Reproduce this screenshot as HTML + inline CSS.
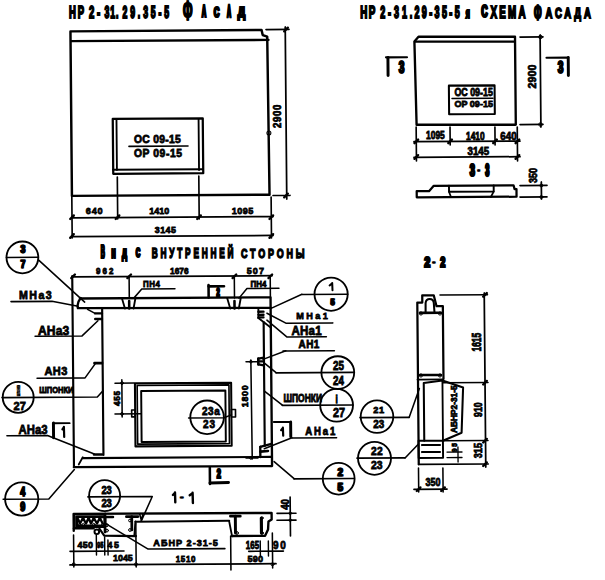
<!DOCTYPE html>
<html><head><meta charset="utf-8"><style>
html,body{margin:0;padding:0;background:#fff;}
svg{display:block;}
text{font-family:"Liberation Sans",sans-serif;fill:#000;stroke:#000;}
path,rect,circle{fill:none;stroke:#000;stroke-linecap:round;stroke-linejoin:round;}
</style></head><body>
<svg width="605" height="580" viewBox="0 0 605 580">
<text transform="translate(69.10,17.9) scale(0.600,1)" font-size="15.78" font-weight="700" stroke-width="1.88" letter-spacing="2.90">НР</text>
<text transform="translate(89.10,17.9) scale(0.600,1)" font-size="15.78" font-weight="700" stroke-width="1.88" letter-spacing="4.45">2-</text>
<text transform="translate(104.60,17.9) scale(0.550,1)" font-size="15.78" font-weight="700" stroke-width="1.94" letter-spacing="1.67">31.</text>
<text transform="translate(122.50,17.9) scale(0.550,1)" font-size="15.78" font-weight="700" stroke-width="1.94" letter-spacing="5.20">29.35-5</text>
<text transform="translate(182.63,20.10) scale(0.1111,0.2682)" font-size="100" font-weight="700" stroke-width="5.80">Ф</text>
<text transform="translate(183.13,20.10) scale(0.1111,0.2682)" font-size="100" font-weight="700" stroke-width="5.80">Ф</text>
<text transform="translate(201.45,17.15) scale(0.0583,0.1667)" font-size="100" font-weight="700" stroke-width="13.33">А</text>
<text transform="translate(202.25,17.15) scale(0.0583,0.1667)" font-size="100" font-weight="700" stroke-width="13.33">А</text>
<text transform="translate(213.55,17.00) scale(0.0764,0.1521)" font-size="100" font-weight="700" stroke-width="13.13">С</text>
<text transform="translate(214.35,17.00) scale(0.0764,0.1521)" font-size="100" font-weight="700" stroke-width="13.13">С</text>
<text transform="translate(226.65,17.15) scale(0.0528,0.1696)" font-size="100" font-weight="700" stroke-width="13.49">А</text>
<text transform="translate(227.45,17.15) scale(0.0528,0.1696)" font-size="100" font-weight="700" stroke-width="13.49">А</text>
<text transform="translate(237.55,17.15) scale(0.1014,0.1508)" font-size="100" font-weight="700" stroke-width="11.89">Д</text>
<text transform="translate(238.35,17.15) scale(0.1014,0.1508)" font-size="100" font-weight="700" stroke-width="11.89">Д</text>
<path d="M71.94,195.89 L70.46,31.39 L261.56,29.95 L262.70,35.04 L267.22,36.71 L269.54,194.71 L71.94,195.89" stroke-width="2.45"/>
<path d="M71.20,41.09 L268.50,39.91" stroke-width="2.35"/>
<path d="M112.75,118.87 L202.75,118.33 L203.25,173.23 L113.25,173.77Z" stroke-width="2.25"/>
<path d="M116.47,119.00 L116.93,170.00" stroke-width="1.85"/>
<path d="M113.00,169.77 L203.00,169.23" stroke-width="1.85"/>
<path d="M198.57,119.00 L199.03,170.00" stroke-width="1.85"/>
<text transform="translate(134.00,142.8) scale(0.950,1)" font-size="10.89" font-weight="700" stroke-width="0.77" letter-spacing="0.31">OC 09-15</text>
<path d="M129.00,146.38 L188.00,146.02" stroke-width="1.65"/>
<text transform="translate(134.00,156.6) scale(0.950,1)" font-size="10.89" font-weight="700" stroke-width="0.77" letter-spacing="0.59">OP 09-15</text>
<circle cx="268.9" cy="133" r="2.0" stroke-width="1.05"/>
<path d="M117.31,177.00 L117.69,219.00" stroke-width="1.65"/>
<path d="M198.81,176.00 L199.19,219.00" stroke-width="1.65"/>
<path d="M71.82,197.00 L72.18,238.00" stroke-width="1.65"/>
<path d="M271.12,197.00 L271.48,238.00" stroke-width="1.65"/>
<path d="M72.00,217.80 L273.00,216.60" stroke-width="1.75"/>
<path d="M72.00,236.60 L273.00,235.40" stroke-width="1.75"/>
<path d="M70.2,219.0 L73.8,215.39999999999998" stroke-width="2.4"/>
<path d="M115.7,219.0 L119.3,215.39999999999998" stroke-width="2.4"/>
<path d="M197.2,219.0 L200.8,215.39999999999998" stroke-width="2.4"/>
<path d="M269.5,219.0 L273.1,215.39999999999998" stroke-width="2.4"/>
<path d="M70.2,237.8 L73.8,234.2" stroke-width="2.4"/>
<path d="M269.5,237.8 L273.1,234.2" stroke-width="2.4"/>
<text transform="translate(85.80,214.3) scale(0.950,1)" font-size="9.64" font-weight="700" stroke-width="0.77" letter-spacing="0.85">640</text>
<text transform="translate(149.30,214.3) scale(0.930,1)" font-size="9.64" font-weight="700" stroke-width="0.78" letter-spacing="0.00">1410</text>
<text transform="translate(231.70,214.3) scale(0.950,1)" font-size="9.64" font-weight="700" stroke-width="0.77" letter-spacing="0.41">1095</text>
<text transform="translate(154.80,232.7) scale(0.950,1)" font-size="9.36" font-weight="700" stroke-width="0.77" letter-spacing="0.48">3145</text>
<path d="M266.00,29.57 L289.00,29.43" stroke-width="1.65"/>
<path d="M273.00,195.55 L290.00,195.45" stroke-width="1.65"/>
<path d="M285.23,27.00 L286.77,199.00" stroke-width="1.75"/>
<path d="M284.2,31.3 L287.8,27.7" stroke-width="2.4"/>
<path d="M284.2,197.3 L287.8,193.7" stroke-width="2.4"/>
<text transform="translate(280.5,128.00) rotate(-90) scale(0.950,1)" font-size="10.20" font-weight="700" stroke-width="0.77" letter-spacing="0.63">2900</text>
<text transform="translate(360.20,17.9) scale(0.600,1)" font-size="16.34" font-weight="700" stroke-width="1.88" letter-spacing="2.45">НР</text>
<text transform="translate(380.20,17.9) scale(0.550,1)" font-size="16.34" font-weight="700" stroke-width="1.94" letter-spacing="5.32">2-31.</text>
<text transform="translate(414.50,17.9) scale(0.550,1)" font-size="16.34" font-weight="700" stroke-width="1.94" letter-spacing="4.30">29-35-5</text>
<text transform="translate(465.46,17.51) scale(0.0698,0.1532)" font-size="100" font-weight="700" stroke-width="11.66">я</text>
<text transform="translate(465.96,17.51) scale(0.0698,0.1532)" font-size="100" font-weight="700" stroke-width="11.66">я</text>
<text transform="translate(480.95,17.28) scale(0.0861,0.1662)" font-size="100" font-weight="700" stroke-width="11.89">С</text>
<text transform="translate(481.75,17.28) scale(0.0861,0.1662)" font-size="100" font-weight="700" stroke-width="11.89">С</text>
<text transform="translate(490.50,17.9) scale(0.620,1)" font-size="15.78" font-weight="700" stroke-width="1.85" letter-spacing="3.67">ХЕМА</text>
<text transform="translate(533.83,19.75) scale(0.0887,0.2203)" font-size="100" font-weight="700" stroke-width="7.12">Ф</text>
<text transform="translate(534.33,19.75) scale(0.0887,0.2203)" font-size="100" font-weight="700" stroke-width="7.12">Ф</text>
<text transform="translate(545.50,17.9) scale(0.620,1)" font-size="15.36" font-weight="700" stroke-width="1.85" letter-spacing="4.48">АСАДА</text>
<path d="M416.60,124.70 L414.40,41.40 L418.50,36.70 L515.00,36.70 L515.80,124.70 L416.60,124.70" stroke-width="2.35"/>
<path d="M415.00,41.60 L514.50,41.60" stroke-width="2.15"/>
<path d="M448.87,85.64 L494.57,85.36 L494.83,114.06 L449.13,114.34Z" stroke-width="2.05"/>
<text transform="translate(454.40,96.4) scale(0.806,1)" font-size="11.03" font-weight="700" stroke-width="0.83" letter-spacing="0.00">OC 09-15</text>
<path d="M452.00,98.52 L493.00,98.28" stroke-width="1.45"/>
<text transform="translate(454.40,107.3) scale(0.940,1)" font-size="9.64" font-weight="700" stroke-width="0.77" letter-spacing="0.00">OP 09-15</text>
<path d="M387.92,57.50 L388.08,75.50" stroke-width="2.95"/>
<path d="M386.00,57.36 L407.00,57.24" stroke-width="2.15"/>
<text transform="translate(398.39,73.45) scale(0.0968,0.1580)" font-size="100" font-weight="700" stroke-width="10.20">3</text>
<text transform="translate(399.19,73.45) scale(0.0968,0.1580)" font-size="100" font-weight="700" stroke-width="10.20">3</text>
<path d="M546.50,57.77 L568.30,57.63" stroke-width="2.15"/>
<path d="M568.22,57.50 L568.38,75.50" stroke-width="2.95"/>
<text transform="translate(557.39,73.45) scale(0.0968,0.1580)" font-size="100" font-weight="700" stroke-width="10.20">3</text>
<text transform="translate(558.19,73.45) scale(0.0968,0.1580)" font-size="100" font-weight="700" stroke-width="10.20">3</text>
<path d="M520.00,37.07 L543.00,36.93" stroke-width="1.65"/>
<path d="M520.00,124.57 L543.00,124.43" stroke-width="1.65"/>
<path d="M540.09,35.00 L540.91,127.00" stroke-width="1.75"/>
<circle cx="540.5" cy="37" r="1.8" fill="#000" stroke="none"/>
<circle cx="540.5" cy="124.5" r="1.8" fill="#000" stroke="none"/>
<text transform="translate(535.6,88.50) rotate(-90) scale(0.950,1)" font-size="11.17" font-weight="700" stroke-width="0.77" letter-spacing="0.12">2900</text>
<path d="M416.15,127.00 L416.45,161.00" stroke-width="1.65"/>
<path d="M450.02,127.00 L450.18,145.00" stroke-width="1.65"/>
<path d="M494.92,127.00 L495.08,145.00" stroke-width="1.65"/>
<path d="M517.25,127.00 L517.55,161.00" stroke-width="1.65"/>
<path d="M414.00,141.72 L520.00,141.08" stroke-width="1.75"/>
<path d="M414.00,157.32 L520.00,156.68" stroke-width="1.75"/>
<path d="M414.5,143.20000000000002 L418.1,139.6" stroke-width="2.4"/>
<path d="M448.3,143.20000000000002 L451.90000000000003,139.6" stroke-width="2.4"/>
<path d="M493.2,143.20000000000002 L496.8,139.6" stroke-width="2.4"/>
<path d="M515.6,143.20000000000002 L519.1999999999999,139.6" stroke-width="2.4"/>
<path d="M414.5,158.8 L418.1,155.2" stroke-width="2.4"/>
<path d="M515.6,158.8 L519.1999999999999,155.2" stroke-width="2.4"/>
<text transform="translate(426.00,139.3) scale(0.798,1)" font-size="10.61" font-weight="700" stroke-width="0.83" letter-spacing="0.00">1095</text>
<text transform="translate(466.00,139.9) scale(0.800,1)" font-size="10.47" font-weight="700" stroke-width="0.83" letter-spacing="0.00">1410</text>
<text transform="translate(500.30,139.9) scale(0.932,1)" font-size="10.47" font-weight="700" stroke-width="0.78" letter-spacing="0.00">640</text>
<text transform="translate(467.50,154.8) scale(0.929,1)" font-size="10.47" font-weight="700" stroke-width="0.78" letter-spacing="0.00">3145</text>
<text transform="translate(469.38,176.26) scale(0.0882,0.1639)" font-size="100" font-weight="700" stroke-width="12.69">3</text>
<text transform="translate(470.18,176.26) scale(0.0882,0.1639)" font-size="100" font-weight="700" stroke-width="12.69">3</text>
<text transform="translate(477.62,172.18) scale(0.0412,0.0550)" font-size="100" font-weight="700" stroke-width="29.10">-</text>
<text transform="translate(478.42,172.18) scale(0.0412,0.0550)" font-size="100" font-weight="700" stroke-width="29.10">-</text>
<text transform="translate(484.98,176.26) scale(0.0686,0.1639)" font-size="100" font-weight="700" stroke-width="13.76">3</text>
<text transform="translate(485.78,176.26) scale(0.0686,0.1639)" font-size="100" font-weight="700" stroke-width="13.76">3</text>
<path d="M416.75,197.30 L416.70,191.20 L429.00,191.13 L433.75,185.80 L513.55,185.32 L514.58,189.11 L516.48,189.10 L516.55,196.70 L416.75,197.30" stroke-width="2.25"/>
<path d="M448.97,185.73 L449.03,191.83 L493.73,191.57 L493.67,185.47" stroke-width="1.95"/>
<path d="M448.98,191.71 L451.02,196.99" stroke-width="1.75"/>
<path d="M493.68,191.69 L490.82,197.01" stroke-width="1.75"/>
<path d="M520.00,185.58 L547.00,185.42" stroke-width="1.65"/>
<path d="M520.00,197.08 L547.00,196.92" stroke-width="1.65"/>
<path d="M541.32,182.00 L541.48,199.00" stroke-width="1.75"/>
<circle cx="541.4" cy="185.5" r="1.5" fill="#000" stroke="none"/>
<circle cx="541.4" cy="197" r="1.5" fill="#000" stroke="none"/>
<text transform="translate(537,183.00) rotate(-90) scale(0.804,1)" font-size="11.17" font-weight="700" stroke-width="0.83" letter-spacing="0.00">350</text>
<text transform="translate(100.42,258.18) scale(0.0536,0.1922)" font-size="100" font-weight="700" stroke-width="11.39">В</text>
<text transform="translate(101.22,258.18) scale(0.0536,0.1922)" font-size="100" font-weight="700" stroke-width="11.39">В</text>
<text transform="translate(111.32,257.78) scale(0.0536,0.1349)" font-size="100" font-weight="700" stroke-width="14.85">И</text>
<text transform="translate(112.12,257.78) scale(0.0536,0.1349)" font-size="100" font-weight="700" stroke-width="14.85">И</text>
<text transform="translate(121.82,257.78) scale(0.0656,0.1349)" font-size="100" font-weight="700" stroke-width="13.96">Д</text>
<text transform="translate(122.62,257.78) scale(0.0656,0.1349)" font-size="100" font-weight="700" stroke-width="13.96">Д</text>
<text transform="translate(135.42,256.95) scale(0.0592,0.1262)" font-size="100" font-weight="700" stroke-width="15.11">С</text>
<text transform="translate(136.22,256.95) scale(0.0592,0.1262)" font-size="100" font-weight="700" stroke-width="15.11">С</text>
<text transform="translate(151.80,258.2) scale(0.600,1)" font-size="13.83" font-weight="700" stroke-width="1.50" letter-spacing="4.64">ВНУТРЕННЕЙ</text>
<text transform="translate(241.00,258) scale(0.660,1)" font-size="13.55" font-weight="700" stroke-width="1.45" letter-spacing="4.32">СТОРОНЫ</text>
<path d="M72.24,276.00 L73.96,466.60" stroke-width="2.15"/>
<path d="M79.94,298.45 L270.54,297.31 L272.06,466.01 L73.86,467.19" stroke-width="2.35"/>
<path d="M80.7,297.9 Q76.5,303 77.9,308.1 L270.8,307.9" stroke-width="2.35"/>
<path d="M102.14,308.50 L103.46,455.00" stroke-width="2.15"/>
<path d="M263.64,322.00 L264.76,446.00" stroke-width="2.15"/>
<path d="M82.80,458.06 L271.00,456.94" stroke-width="2.15"/>
<path d="M78.73,464.51 L82.77,457.29" stroke-width="1.75"/>
<path d="M72.00,276.90 L272.00,275.70" stroke-width="1.75"/>
<path d="M129.10,276.30 L129.30,298.00" stroke-width="1.55"/>
<path d="M234.30,276.30 L234.50,298.00" stroke-width="1.55"/>
<path d="M270.21,276.30 L270.39,297.00" stroke-width="1.55"/>
<path d="M71.3,278.1 L74.89999999999999,274.5" stroke-width="2.4"/>
<path d="M127.39999999999999,278.1 L131.0,274.5" stroke-width="2.4"/>
<path d="M232.6,278.1 L236.20000000000002,274.5" stroke-width="2.4"/>
<path d="M268.5,278.1 L272.1,274.5" stroke-width="2.4"/>
<text transform="translate(96.00,273.8) scale(0.950,1)" font-size="8.38" font-weight="700" stroke-width="0.77" letter-spacing="2.16">962</text>
<text transform="translate(170.00,273.8) scale(0.877,1)" font-size="9.50" font-weight="700" stroke-width="0.80" letter-spacing="0.00">1676</text>
<text transform="translate(246.80,273.8) scale(0.950,1)" font-size="9.50" font-weight="700" stroke-width="0.77" letter-spacing="1.12">507</text>
<path d="M121.85,298.01 L124.95,308.49" stroke-width="1.85"/>
<path d="M135.45,297.99 L133.55,308.51" stroke-width="1.85"/>
<path d="M129.17,301.00 L129.23,308.50" stroke-width="2.55"/>
<path d="M227.15,298.01 L230.25,308.49" stroke-width="1.85"/>
<path d="M240.75,297.99 L238.85,308.51" stroke-width="1.85"/>
<path d="M234.47,301.00 L234.53,308.50" stroke-width="2.55"/>
<path d="M133.84,298.12 L141.76,288.98 L174.96,288.78" stroke-width="1.55"/>
<text transform="translate(143.00,287) scale(0.950,1)" font-size="8.38" font-weight="700" stroke-width="0.77" letter-spacing="0.57">ПН4</text>
<path d="M239.04,298.12 L246.96,288.47 L278.96,288.28" stroke-width="1.55"/>
<text transform="translate(250.50,287) scale(0.950,1)" font-size="8.38" font-weight="700" stroke-width="0.77" letter-spacing="0.09">ПН4</text>
<path d="M208.54,285.00 L208.66,297.60" stroke-width="2.55"/>
<path d="M208.60,286.35 L224.00,286.25" stroke-width="2.65"/>
<text transform="translate(216.32,295.78) scale(0.0529,0.1023)" font-size="100" font-weight="700" stroke-width="18.05">2</text>
<text transform="translate(217.12,295.78) scale(0.0529,0.1023)" font-size="100" font-weight="700" stroke-width="18.05">2</text>
<circle cx="22.4" cy="257.4" r="15.9" stroke-width="1.85"/>
<path d="M6.50,257.50 L38.30,257.30" stroke-width="1.65"/>
<text transform="translate(20.13,253.17) scale(0.0829,0.1020)" font-size="100" font-weight="700" stroke-width="11.90">3</text>
<text transform="translate(20.93,253.17) scale(0.0829,0.1020)" font-size="100" font-weight="700" stroke-width="11.90">3</text>
<text transform="translate(20.13,268.27) scale(0.0829,0.1020)" font-size="100" font-weight="700" stroke-width="11.90">7</text>
<text transform="translate(20.93,268.27) scale(0.0829,0.1020)" font-size="100" font-weight="700" stroke-width="11.90">7</text>
<path d="M38.41,259.84 L84.69,302.06" stroke-width="1.55"/>
<text transform="translate(19.00,299) scale(0.950,1)" font-size="11.17" font-weight="700" stroke-width="0.77" letter-spacing="1.53">МНа3</text>
<path d="M10.98,301.60 L51.98,301.35 L78.02,306.30" stroke-width="1.55"/>
<path d="M87.58,309.32 L95.02,313.38" stroke-width="1.55"/>
<path d="M95.20,313.42 L102.00,313.38" stroke-width="2.35"/>
<path d="M95.20,319.02 L102.00,318.98" stroke-width="2.35"/>
<path d="M97.93,320.81 L82.07,335.91 L35.07,336.19" stroke-width="1.55"/>
<text transform="translate(38.00,335) scale(0.950,1)" font-size="12.71" font-weight="700" stroke-width="0.77" letter-spacing="0.17">АНа3</text>
<path d="M94.50,363.12 L102.00,363.08" stroke-width="2.75"/>
<path d="M37.06,378.17 L85.06,377.89 L95.14,363.83" stroke-width="1.55"/>
<text transform="translate(44.50,374.5) scale(0.950,1)" font-size="11.59" font-weight="700" stroke-width="0.77" letter-spacing="0.41">АН3</text>
<circle cx="18.2" cy="397.3" r="15.5" stroke-width="1.85"/>
<path d="M2.03,397.60 L97.33,397.03 L102.97,390.70" stroke-width="1.55"/>
<text transform="translate(39.30,393) scale(0.897,1)" font-size="8.38" font-weight="700" stroke-width="0.79" letter-spacing="0.00">ШПОНКИ</text>
<text transform="translate(13.50,409.7) scale(0.950,1)" font-size="11.59" font-weight="700" stroke-width="0.77" letter-spacing="0.19">27</text>
<text transform="translate(19.7,396.30) rotate(-90) scale(0.579,1)" font-size="4.33" font-weight="700" stroke-width="0.51" letter-spacing="0.00">ШПОНКИ</text>
<text transform="translate(18.60,433.5) scale(0.872,1)" font-size="12.99" font-weight="700" stroke-width="0.80" letter-spacing="0.00">АНа3</text>
<path d="M53.43,423.00 L53.57,437.70" stroke-width="2.95"/>
<path d="M53.50,423.25 L69.60,423.15" stroke-width="1.95"/>
<path d="M63.90,426.90 L64.20,437.00 M62.40,429.40 L63.90,427.20" stroke-width="2.2" stroke-linecap="round"/>
<path d="M6.92,435.66 L47.52,435.42 L94.28,453.94" stroke-width="1.55"/>
<path d="M94.00,454.52 L102.00,454.48" stroke-width="2.55"/>
<circle cx="21.7" cy="499" r="16.6" stroke-width="1.85"/>
<path d="M3.13,499.21 L48.83,498.94 L74.37,469.49" stroke-width="1.55"/>
<text transform="translate(20.03,496.27) scale(0.0846,0.1252)" font-size="100" font-weight="700" stroke-width="10.48">4</text>
<text transform="translate(20.83,496.27) scale(0.0846,0.1252)" font-size="100" font-weight="700" stroke-width="10.48">4</text>
<text transform="translate(20.03,510.55) scale(0.0846,0.1203)" font-size="100" font-weight="700" stroke-width="10.74">9</text>
<text transform="translate(20.83,510.55) scale(0.0846,0.1203)" font-size="100" font-weight="700" stroke-width="10.74">9</text>
<path d="M134.92,383.39 L231.12,382.81 L231.68,445.81 L135.48,446.39Z" stroke-width="2.05"/>
<path d="M137.14,385.48 L228.94,384.92 L229.46,443.62 L137.66,444.18Z" stroke-width="1.65"/>
<path d="M141.17,390.95 L225.37,390.45 L225.83,441.45 L141.63,441.95Z" stroke-width="1.95"/>
<path d="M131.67,410.01 L135.17,409.99 L135.23,416.89 L131.73,416.91Z" stroke-width="1.65"/>
<path d="M231.37,409.51 L235.47,409.49 L235.53,416.99 L231.43,417.01Z" stroke-width="1.65"/>
<path d="M115.00,383.16 L134.00,383.04" stroke-width="1.55"/>
<path d="M115.00,413.98 L141.00,413.82" stroke-width="1.55"/>
<path d="M121.83,379.70 L122.17,417.00" stroke-width="1.55"/>
<circle cx="122" cy="383.1" r="1.4" fill="#000" stroke="none"/>
<circle cx="122" cy="413.9" r="1.4" fill="#000" stroke="none"/>
<text transform="translate(119.8,405.90) rotate(-90) scale(0.950,1)" font-size="8.66" font-weight="700" stroke-width="0.77" letter-spacing="0.61">455</text>
<circle cx="207.1" cy="417.3" r="16.8" stroke-width="1.85"/>
<path d="M188.61,417.93 L224.01,417.72 L231.39,414.87" stroke-width="1.55"/>
<text transform="translate(202.00,414.9) scale(0.950,1)" font-size="10.47" font-weight="700" stroke-width="0.77" letter-spacing="0.57">23а</text>
<text transform="translate(203.00,428.3) scale(0.950,1)" font-size="10.47" font-weight="700" stroke-width="0.77" letter-spacing="1.00">23</text>
<circle cx="331.1" cy="294.2" r="16.6" stroke-width="1.85"/>
<path d="M302.00,294.54 L347.70,294.26" stroke-width="1.65"/>
<path d="M301.94,294.31 L271.06,308.39" stroke-width="1.55"/>
<path d="M332.20,282.90 L332.50,290.20 M329.60,285.40 L332.20,283.20" stroke-width="2.0" stroke-linecap="round"/>
<text transform="translate(330.33,304.78) scale(0.0668,0.0934)" font-size="100" font-weight="700" stroke-width="13.73">5</text>
<text transform="translate(331.13,304.78) scale(0.0668,0.0934)" font-size="100" font-weight="700" stroke-width="13.73">5</text>
<path d="M258.40,311.72 L263.50,311.68" stroke-width="2.35"/>
<path d="M258.40,314.82 L263.50,314.78" stroke-width="2.35"/>
<path d="M258.40,317.42 L263.50,317.38" stroke-width="2.35"/>
<path d="M258.36,309.00 L258.44,318.00" stroke-width="1.85"/>
<path d="M258.36,318.03 L270.04,326.97" stroke-width="1.85"/>
<text transform="translate(296.20,319.1) scale(0.950,1)" font-size="9.64" font-weight="700" stroke-width="0.77" letter-spacing="2.58">МНа1</text>
<path d="M266.95,313.20 L285.85,323.18 L332.75,322.90" stroke-width="1.55"/>
<text transform="translate(291.60,335.3) scale(0.950,1)" font-size="12.15" font-weight="700" stroke-width="0.77" letter-spacing="0.19">АНа1</text>
<path d="M266.92,320.18 L287.08,337.06 L326.38,336.82" stroke-width="1.55"/>
<text transform="translate(298.50,348) scale(0.950,1)" font-size="10.47" font-weight="700" stroke-width="0.77" letter-spacing="0.53">АН1</text>
<path d="M283.00,351.05 L334.40,350.75" stroke-width="1.55"/>
<path d="M285.86,350.83 L263.04,359.37" stroke-width="1.55"/>
<path d="M258.50,358.62 L263.80,357.58" stroke-width="2.15"/>
<path d="M258.50,364.42 L263.80,365.38" stroke-width="2.15"/>
<path d="M258.27,358.60 L258.33,364.40" stroke-width="2.55"/>
<path d="M259.00,361.41 L263.80,361.39" stroke-width="2.15"/>
<circle cx="337.8" cy="372.6" r="16.4" stroke-width="1.85"/>
<path d="M276.00,372.83 L353.50,372.37" stroke-width="1.65"/>
<path d="M276.04,372.57 L264.46,363.03" stroke-width="1.55"/>
<text transform="translate(333.00,370.2) scale(0.827,1)" font-size="11.87" font-weight="700" stroke-width="0.82" letter-spacing="0.00">25</text>
<text transform="translate(333.00,384.7) scale(0.820,1)" font-size="11.87" font-weight="700" stroke-width="0.82" letter-spacing="0.00">24</text>
<circle cx="336.6" cy="405.2" r="16.4" stroke-width="1.85"/>
<path d="M282.30,405.41 L353.00,404.99" stroke-width="1.65"/>
<path d="M282.36,405.15 L264.44,391.05" stroke-width="1.55"/>
<text transform="translate(283.50,401.6) scale(0.830,1)" font-size="10.20" font-weight="700" stroke-width="0.82" letter-spacing="0.00">ШПОНКИ</text>
<text transform="translate(335.70,402.50) scale(0.0357,0.1097)" font-size="100" font-weight="700" stroke-width="13.75">i</text>
<text transform="translate(336.50,402.50) scale(0.0357,0.1097)" font-size="100" font-weight="700" stroke-width="13.75">i</text>
<text transform="translate(333.00,417.3) scale(0.911,1)" font-size="11.87" font-weight="700" stroke-width="0.79" letter-spacing="0.00">27</text>
<path d="M250.85,360.00 L252.25,459.00" stroke-width="1.55"/>
<path d="M246.00,361.74 L258.00,361.66" stroke-width="1.45"/>
<path d="M246.00,458.04 L258.00,457.96" stroke-width="1.45"/>
<circle cx="250.9" cy="361.7" r="1.3" fill="#000" stroke="none"/>
<circle cx="250.9" cy="458" r="1.3" fill="#000" stroke="none"/>
<text transform="translate(248.3,407.20) rotate(-90) scale(0.950,1)" font-size="9.36" font-weight="700" stroke-width="0.77" letter-spacing="0.72">1800</text>
<path d="M273.80,422.05 L290.70,421.95" stroke-width="1.95"/>
<path d="M290.63,422.00 L290.77,436.70" stroke-width="2.95"/>
<path d="M282.90,427.70 L283.20,435.70 M281.10,430.20 L282.90,428.00" stroke-width="2.2" stroke-linecap="round"/>
<text transform="translate(305.20,435.4) scale(0.950,1)" font-size="10.06" font-weight="700" stroke-width="0.77" letter-spacing="2.02">АНа1</text>
<path d="M292.00,437.93 L336.60,437.67" stroke-width="1.55"/>
<path d="M291.95,437.72 L264.25,448.78" stroke-width="1.55"/>
<path d="M260.31,446.83 L271.39,443.97" stroke-width="2.35"/>
<path d="M260.25,446.80 L260.35,457.00" stroke-width="2.35"/>
<path d="M260.30,451.62 L268.00,450.98" stroke-width="2.55"/>
<circle cx="338.7" cy="478.7" r="15.9" stroke-width="1.85"/>
<path d="M294.00,478.88 L353.50,478.52" stroke-width="1.65"/>
<path d="M294.08,478.64 L274.12,461.56" stroke-width="1.55"/>
<text transform="translate(337.33,476.07) scale(0.0918,0.1106)" font-size="100" font-weight="700" stroke-width="10.87">2</text>
<text transform="translate(338.13,476.07) scale(0.0918,0.1106)" font-size="100" font-weight="700" stroke-width="10.87">2</text>
<text transform="translate(337.33,490.76) scale(0.0918,0.1077)" font-size="100" font-weight="700" stroke-width="11.03">5</text>
<text transform="translate(338.13,490.76) scale(0.0918,0.1077)" font-size="100" font-weight="700" stroke-width="11.03">5</text>
<path d="M209.83,467.50 L209.97,484.00" stroke-width="2.55"/>
<path d="M210.00,483.06 L228.50,482.54" stroke-width="2.95"/>
<text transform="translate(216.62,478.48) scale(0.0654,0.1351)" font-size="100" font-weight="700" stroke-width="13.97">2</text>
<text transform="translate(217.42,478.48) scale(0.0654,0.1351)" font-size="100" font-weight="700" stroke-width="13.97">2</text>
<text transform="translate(424.08,267.42) scale(0.0989,0.1520)" font-size="100" font-weight="700" stroke-width="12.75">2</text>
<text transform="translate(424.88,267.42) scale(0.0989,0.1520)" font-size="100" font-weight="700" stroke-width="12.75">2</text>
<text transform="translate(432.62,264.38) scale(0.0503,0.0519)" font-size="100" font-weight="700" stroke-width="27.40">-</text>
<text transform="translate(433.42,264.38) scale(0.0503,0.0519)" font-size="100" font-weight="700" stroke-width="27.40">-</text>
<text transform="translate(439.98,267.42) scale(0.0864,0.1520)" font-size="100" font-weight="700" stroke-width="13.42">2</text>
<text transform="translate(440.78,267.42) scale(0.0864,0.1520)" font-size="100" font-weight="700" stroke-width="13.42">2</text>
<path d="M418.76,464.28 L417.30,302.58 L422.30,302.55 L422.24,295.35 L433.74,295.28 L436.54,306.16 L442.84,306.12 L443.49,378.92" stroke-width="2.25"/>
<path d="M425.6,312.5 L425.6,303 Q426,298.9 429.7,298.9 Q433.4,298.9 433.8,303 L434.5,312.5" stroke-width="2.05"/>
<path d="M420.00,312.86 L441.00,312.74" stroke-width="2.55"/>
<circle cx="421" cy="313.5" r="1.6" fill="#000" stroke="none"/>
<circle cx="440" cy="313.5" r="1.6" fill="#000" stroke="none"/>
<path d="M420.00,375.06 L441.00,374.94" stroke-width="2.55"/>
<circle cx="421" cy="375.5" r="1.6" fill="#000" stroke="none"/>
<circle cx="440" cy="375.5" r="1.6" fill="#000" stroke="none"/>
<path d="M417.50,379.58 L443.00,379.42" stroke-width="1.75"/>
<path d="M424.27,440.82 L423.75,382.92 L442.43,380.41 L463.09,387.58 L461.60,432.79 L442.97,440.71" stroke-width="2.05"/>
<path d="M442.43,380.00 L442.97,440.70" stroke-width="1.85"/>
<text transform="translate(456.6,432.90) rotate(-90) scale(0.903,1)" font-size="9.22" font-weight="700" stroke-width="0.79" letter-spacing="0.00">АБНР2-31-5</text>
<path d="M418.52,440.77 L442.92,440.63 L443.08,457.83 L418.68,457.97Z" stroke-width="1.95"/>
<path d="M422.00,445.05 L440.00,444.95" stroke-width="2.15"/>
<path d="M422.00,452.05 L440.00,451.95" stroke-width="2.15"/>
<path d="M418.60,464.41 L488.30,463.99" stroke-width="1.65"/>
<path d="M440.00,295.04 L487.50,294.76" stroke-width="1.55"/>
<path d="M443.00,382.83 L488.00,382.56" stroke-width="1.55"/>
<path d="M443.00,440.83 L488.00,440.56" stroke-width="1.55"/>
<path d="M484.22,293.00 L485.78,467.00" stroke-width="1.75"/>
<path d="M483.2,296.7 L486.8,293.09999999999997" stroke-width="2.4"/>
<path d="M483.2,384.5 L486.8,380.9" stroke-width="2.4"/>
<path d="M483.2,442.5 L486.8,438.9" stroke-width="2.4"/>
<path d="M483.2,466.0 L486.8,462.4" stroke-width="2.4"/>
<text transform="translate(480.7,351.50) rotate(-90) scale(0.659,1)" font-size="12.71" font-weight="700" stroke-width="0.90" letter-spacing="0.00">1615</text>
<text transform="translate(482,416.90) rotate(-90) scale(0.758,1)" font-size="11.45" font-weight="700" stroke-width="0.85" letter-spacing="0.00">910</text>
<text transform="translate(482,458.20) rotate(-90) scale(0.795,1)" font-size="11.45" font-weight="700" stroke-width="0.84" letter-spacing="0.00">315</text>
<text transform="translate(457,452.00) rotate(-90) scale(0.950,1)" font-size="6.98" font-weight="700" stroke-width="0.77" letter-spacing="1.72">95</text>
<path d="M447.00,457.55 L462.00,457.45" stroke-width="1.35"/>
<path d="M447.00,452.05 L462.00,451.95" stroke-width="1.35"/>
<path d="M457.93,447.00 L458.07,462.00" stroke-width="1.35"/>
<circle cx="377" cy="416.6" r="16.3" stroke-width="1.85"/>
<path d="M360.00,417.65 L409.00,417.35" stroke-width="1.65"/>
<path d="M409.13,417.53 L419.37,388.47" stroke-width="1.55"/>
<text transform="translate(373.30,413.3) scale(0.950,1)" font-size="9.78" font-weight="700" stroke-width="0.77" letter-spacing="0.62">21</text>
<text transform="translate(373.30,428) scale(0.913,1)" font-size="10.75" font-weight="700" stroke-width="0.78" letter-spacing="0.00">23</text>
<circle cx="374.5" cy="458.3" r="16.5" stroke-width="1.85"/>
<path d="M357.00,458.14 L405.00,457.86" stroke-width="1.65"/>
<path d="M405.06,458.04 L418.24,444.26" stroke-width="1.55"/>
<text transform="translate(371.00,455.2) scale(0.950,1)" font-size="10.75" font-weight="700" stroke-width="0.77" letter-spacing="0.27">22</text>
<text transform="translate(371.00,469.2) scale(0.950,1)" font-size="10.89" font-weight="700" stroke-width="0.77" letter-spacing="0.12">23</text>
<path d="M418.49,468.00 L418.71,492.00" stroke-width="1.55"/>
<path d="M442.89,468.00 L443.11,492.00" stroke-width="1.55"/>
<path d="M414.00,489.30 L447.00,489.10" stroke-width="1.75"/>
<path d="M416.8,491.0 L420.40000000000003,487.4" stroke-width="2.4"/>
<path d="M441.2,491.0 L444.8,487.4" stroke-width="2.4"/>
<text transform="translate(425.60,485.7) scale(0.794,1)" font-size="11.31" font-weight="700" stroke-width="0.84" letter-spacing="0.00">350</text>
<path d="M175.00,492.50 L175.30,502.40 M172.90,495.00 L175.00,492.80" stroke-width="2.4" stroke-linecap="round"/>
<text transform="translate(180.32,498.78) scale(0.0685,0.0519)" font-size="100" font-weight="700" stroke-width="23.26">-</text>
<text transform="translate(181.12,498.78) scale(0.0685,0.0519)" font-size="100" font-weight="700" stroke-width="23.26">-</text>
<path d="M192.60,492.80 L192.90,503.00 M189.70,495.30 L192.60,493.10" stroke-width="2.4" stroke-linecap="round"/>
<circle cx="104.6" cy="495.6" r="15.5" stroke-width="1.85"/>
<path d="M87.89,496.89 L152.29,496.51 L141.31,520.87" stroke-width="1.55"/>
<text transform="translate(101.40,493.5) scale(0.808,1)" font-size="11.59" font-weight="700" stroke-width="0.83" letter-spacing="0.00">23</text>
<text transform="translate(101.40,507) scale(0.919,1)" font-size="10.20" font-weight="700" stroke-width="0.78" letter-spacing="0.00">23</text>
<path d="M73.75,530.89 L73.60,513.89 L271.60,512.91 L271.66,519.41 L268.47,521.43 L268.05,529.43 L265.10,535.85 L232.10,536.04" stroke-width="2.35"/>
<path d="M73.70,528.56 L93.80,528.44" stroke-width="2.05"/>
<circle cx="96.8" cy="531.8" r="2.3" stroke-width="1.95"/>
<path d="M99.37,528.61 L104.23,535.68 L136.03,536.09" stroke-width="2.15"/>
<path d="M74.74,514.39 L104.94,514.21 L105.06,527.21 L74.86,527.39Z" stroke-width="1.45"/>
<path d="M76.66,516.68 L104.96,516.52 L105.04,525.82 L76.74,525.98Z" stroke-width="2.75"/>
<path d="M78,519 L80,523.5 L83,518 L86,523.5 L88.6,518 L91,523.5 L93.8,518 L97,523.5 L99.8,518 L102.7,523.5" stroke-width="2.35"/>
<circle cx="79.7" cy="524.5" r="1.2" fill="#000" stroke="none"/>
<circle cx="83.4" cy="524.5" r="1.2" fill="#000" stroke="none"/>
<circle cx="93.8" cy="524.5" r="1.2" fill="#000" stroke="none"/>
<circle cx="102.7" cy="524.5" r="1.2" fill="#000" stroke="none"/>
<circle cx="83" cy="517.8" r="1.2" fill="#000" stroke="none"/>
<circle cx="88.6" cy="517.8" r="1.2" fill="#000" stroke="none"/>
<circle cx="93.8" cy="517.8" r="1.2" fill="#000" stroke="none"/>
<circle cx="99.8" cy="517.8" r="1.2" fill="#000" stroke="none"/>
<path d="M135.50,521.78 L229.20,520.82" stroke-width="2.05"/>
<path d="M135.44,521.50 L134.36,535.90" stroke-width="1.95"/>
<path d="M229.13,521.11 L232.07,536.39" stroke-width="1.85"/>
<path d="M105.68,523.56 L148.12,549.10 L224.92,548.64" stroke-width="1.55"/>
<path d="M139.67,514.01 L141.33,520.30 L142.97,513.99" stroke-width="1.55"/>
<text transform="translate(153.30,546.4) scale(0.950,1)" font-size="9.64" font-weight="700" stroke-width="0.77" letter-spacing="1.03">АБНР 2-31-5</text>
<path d="M126.40,516.63 L138.00,516.57" stroke-width="2.75"/>
<path d="M131.74,516.60 L131.86,530.00" stroke-width="2.75"/>
<circle cx="130" cy="520.5" r="1.4" fill="#000" stroke="none"/>
<circle cx="130" cy="530" r="1.4" fill="#000" stroke="none"/>
<path d="M100.00,517.04 L113.00,516.96" stroke-width="2.55"/>
<path d="M104.92,514.00 L105.08,532.00" stroke-width="2.75"/>
<circle cx="107" cy="525.2" r="1.4" fill="#000" stroke="none"/>
<circle cx="107" cy="530.6" r="1.4" fill="#000" stroke="none"/>
<path d="M230.40,516.23 L240.30,516.17" stroke-width="2.75"/>
<path d="M235.32,516.20 L235.48,533.00" stroke-width="2.95"/>
<circle cx="237" cy="533" r="1.4" fill="#000" stroke="none"/>
<path d="M261.33,518.00 L261.47,533.00" stroke-width="3.15"/>
<circle cx="262" cy="533" r="1.4" fill="#000" stroke="none"/>
<circle cx="262" cy="518" r="1.2" fill="#000" stroke="none"/>
<path d="M73.56,535.00 L73.84,567.00" stroke-width="1.55"/>
<path d="M96.31,535.00 L96.49,555.00" stroke-width="1.45"/>
<path d="M104.62,537.00 L104.78,555.00" stroke-width="1.45"/>
<path d="M107.93,540.00 L108.07,555.00" stroke-width="1.45"/>
<path d="M135.80,523.00 L136.20,567.00" stroke-width="1.55"/>
<path d="M70.00,551.36 L124.00,551.04" stroke-width="1.65"/>
<path d="M70.00,564.92 L276.00,563.68" stroke-width="1.75"/>
<circle cx="73.7" cy="564.3" r="1.5" fill="#000" stroke="none"/>
<circle cx="136" cy="564.3" r="1.5" fill="#000" stroke="none"/>
<circle cx="272.5" cy="564.3" r="1.5" fill="#000" stroke="none"/>
<text transform="translate(77.40,548) scale(0.950,1)" font-size="9.36" font-weight="700" stroke-width="0.77" letter-spacing="0.45">450</text>
<text transform="translate(97.00,548) scale(0.626,1)" font-size="9.36" font-weight="700" stroke-width="0.92" letter-spacing="0.00">95</text>
<text transform="translate(107.50,548) scale(0.950,1)" font-size="9.36" font-weight="700" stroke-width="0.77" letter-spacing="1.72">45</text>
<text transform="translate(113.00,561.2) scale(0.950,1)" font-size="9.36" font-weight="700" stroke-width="0.77" letter-spacing="0.02">1045</text>
<text transform="translate(175.70,561.9) scale(0.950,1)" font-size="8.38" font-weight="700" stroke-width="0.77" letter-spacing="0.75">1510</text>
<path d="M230.65,536.00 L230.95,570.00" stroke-width="1.55"/>
<path d="M272.34,533.00 L272.66,568.00" stroke-width="1.55"/>
<path d="M260.23,541.00 L260.37,556.00" stroke-width="1.45"/>
<path d="M268.33,541.00 L268.47,556.00" stroke-width="1.45"/>
<path d="M248.70,551.30 L283.40,551.10" stroke-width="1.65"/>
<text transform="translate(245.80,548.5) scale(0.760,1)" font-size="10.47" font-weight="700" stroke-width="0.85" letter-spacing="0.00">165</text>
<text transform="translate(273.00,548.5) scale(0.950,1)" font-size="10.47" font-weight="700" stroke-width="0.77" letter-spacing="1.85">90</text>
<text transform="translate(247.60,561.8) scale(0.950,1)" font-size="9.64" font-weight="700" stroke-width="0.77" letter-spacing="0.16">590</text>
<path d="M277.00,513.36 L296.00,513.24" stroke-width="1.65"/>
<path d="M277.00,520.26 L296.00,520.14" stroke-width="1.65"/>
<path d="M290.12,497.00 L290.48,536.00" stroke-width="1.65"/>
<circle cx="290.3" cy="513.3" r="1.3" fill="#000" stroke="none"/>
<circle cx="290.3" cy="520.2" r="1.3" fill="#000" stroke="none"/>
<text transform="translate(288.5,509.80) rotate(-90) scale(0.850,1)" font-size="11.45" font-weight="700" stroke-width="0.81" letter-spacing="0.00">40</text>
</svg></body></html>
